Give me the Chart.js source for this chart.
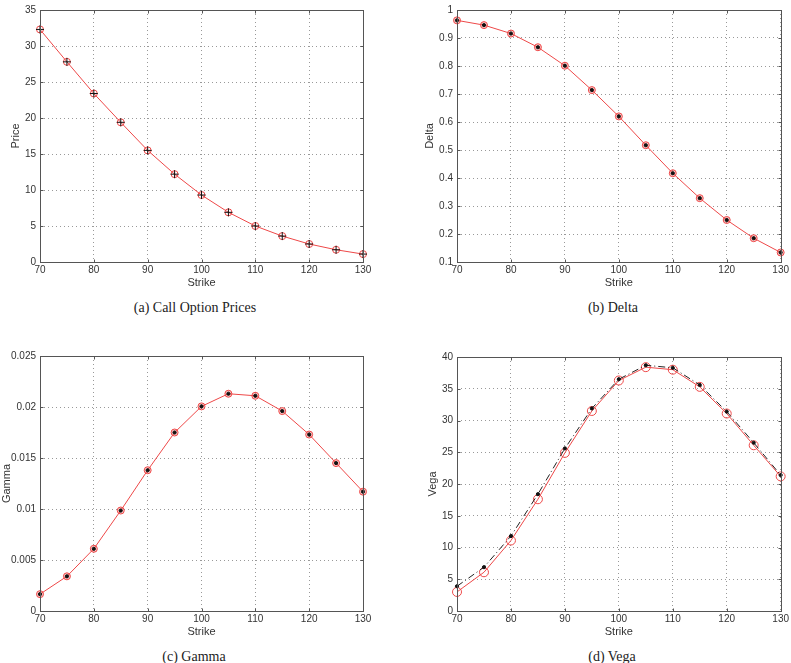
<!DOCTYPE html>
<html>
<head>
<meta charset="utf-8">
<script src="https://cdn.jsdelivr.net/npm/chart.js@4.4.1/dist/chart.umd.min.js"></script>
<style>
body{margin:0;background:#fff;width:791px;height:663px;position:relative;overflow:hidden}
canvas{position:absolute}
.cap{position:absolute;font-family:"Liberation Serif","DejaVu Serif",serif;font-size:14px;color:#222;transform:translateX(-50%);white-space:nowrap;line-height:16px}
</style>
</head>
<body>
<canvas id="chartA" width="395" height="292" style="left:0;top:0"></canvas>
<canvas id="chartB" width="396" height="292" style="left:395px;top:0"></canvas>
<canvas id="chartC" width="395" height="311" style="left:0;top:330px"></canvas>
<canvas id="chartD" width="396" height="311" style="left:395px;top:330px"></canvas>
<div class="cap" style="left:195px;top:300px">(a) Call Option Prices</div>
<div class="cap" style="left:613px;top:300px">(b) Delta</div>
<div class="cap" style="left:194px;top:649px">(c) Gamma</div>
<div class="cap" style="left:612px;top:649px">(d) Vega</div>
<script>
// strikes on the x axis
var strikes = [70, 75, 80, 85, 90, 95, 100, 105, 110, 115, 120, 125, 130];
var strikeTicks = [70, 80, 90, 100, 110, 120, 130];

// (a) call prices
var price = [32.3, 27.8, 23.4, 19.4, 15.5, 12.2, 9.3, 6.9, 5.0, 3.6, 2.5, 1.7, 1.1];
var priceTicks = [0, 5, 10, 15, 20, 25, 30, 35];

// (b) delta
var delta = [0.963, 0.946, 0.916, 0.867, 0.801, 0.714, 0.620, 0.517, 0.417, 0.328, 0.250, 0.185, 0.134];
var deltaTicks = [0.1, 0.2, 0.3, 0.4, 0.5, 0.6, 0.7, 0.8, 0.9, 1];

// (c) gamma
var gamma = [0.00165, 0.0034, 0.0061, 0.00985, 0.0138, 0.0175, 0.02006, 0.0213, 0.0211, 0.0196, 0.0173, 0.0145, 0.0117];
var gammaTicks = [0, 0.005, 0.01, 0.015, 0.02, 0.025];

// (d) vega, two estimates
var vegaRed = [3.0, 6.1, 11.1, 17.6, 24.9, 31.5, 36.3, 38.4, 38.0, 35.3, 31.1, 26.1, 21.2];
var vegaBlack = [3.9, 6.9, 11.8, 18.4, 25.6, 31.9, 36.5, 38.7, 38.3, 35.6, 31.4, 26.5, 21.4];
var vegaTicks = [0, 5, 10, 15, 20, 25, 30, 35, 40];

Chart.defaults.font.family = '"Liberation Sans", Arial, sans-serif';
Chart.defaults.font.size = 10;
Chart.defaults.color = '#333';

var red = '#ee4848';

function pts(vals) {
    return strikes.map(function(s, i) { return {x: s, y: vals[i]}; });
}

// matlab style box with small inward ticks on every side
var boxPlugin = {
    id: 'box',
    afterDraw: function(chart) {
        var a = chart.chartArea, ctx = chart.ctx;
        var L = Math.round(a.left) + 0.5, T = Math.round(a.top) + 0.5;
        var R = L + Math.round(a.right - a.left), B = T + Math.round(a.bottom - a.top);
        ctx.save();
        ctx.strokeStyle = '#555';
        ctx.lineWidth = 1;
        ctx.strokeRect(L, T, R - L, B - T);
        ctx.beginPath();
        chart.scales.x.ticks.forEach(function(t) {
            var px = Math.round(chart.scales.x.getPixelForValue(t.value)) + 0.5;
            ctx.moveTo(px, B); ctx.lineTo(px, B - 3);
            ctx.moveTo(px, T); ctx.lineTo(px, T + 3);
        });
        chart.scales.y.ticks.forEach(function(t) {
            var py = Math.round(chart.scales.y.getPixelForValue(t.value)) + 0.5;
            ctx.moveTo(L, py); ctx.lineTo(L + 3, py);
            ctx.moveTo(R, py); ctx.lineTo(R - 3, py);
        });
        ctx.stroke();
        ctx.restore();
    }
};

function makeChart(id, datasets, ticks, yTitle, yWidth, padTop, padRight, titlePad) {
    return new Chart(id, {
        type: 'line',
        data: {datasets: datasets},
        options: {
            responsive: false,
            animation: false,
            layout: {padding: {top: padTop, right: padRight, left: 0, bottom: 0}},
            plugins: {legend: {display: false}, tooltip: {enabled: false}},
            scales: {
                x: {
                    type: 'linear', min: 70, max: 130,
                    afterBuildTicks: function(s) { s.ticks = strikeTicks.map(function(v) { return {value: v}; }); },
                    afterFit: function(s) { s.height = 30; },
                    grid: {color: '#999', drawTicks: false},
                    border: {display: false, dash: [1, 3]},
                    ticks: {padding: 2, maxRotation: 0, callback: function(v) { return String(v); }},
                    title: {display: true, text: 'Strike', font: {size: 11}, padding: {top: 0, bottom: 2}}
                },
                y: {
                    type: 'linear', min: ticks[0], max: ticks[ticks.length - 1],
                    afterBuildTicks: function(s) { s.ticks = ticks.map(function(v) { return {value: v}; }); },
                    afterFit: function(s) { s.width = yWidth; },
                    grid: {color: '#999', drawTicks: false},
                    border: {display: false, dash: [1, 3]},
                    ticks: {padding: 4, callback: function(v) { return String(v); }},
                    title: {display: true, text: yTitle, font: {size: 11, lineHeight: 1.2}, padding: {top: titlePad, bottom: 0}}
                }
            }
        },
        plugins: [boxPlugin]
    });
}

function blackDots(vals, style, dash) {
    return {
        data: pts(vals),
        clip: false,
        borderColor: dash ? '#222' : 'rgba(0,0,0,0)',
        borderWidth: 1,
        borderDash: dash || [],
        pointStyle: style,
        pointRadius: style === 'cross' ? 4 : 1.6,
        pointBorderColor: '#111',
        pointBackgroundColor: '#111',
        pointBorderWidth: 1,
        tension: 0
    };
}

function redLine(vals, fill, r) {
    return {
        data: pts(vals),
        clip: false,
        borderColor: red,
        borderWidth: 1,
        pointStyle: 'circle',
        pointRadius: r,
        pointBorderColor: red,
        pointBackgroundColor: fill,
        pointBorderWidth: 1,
        tension: 0
    };
}

makeChart('chartA', [blackDots(price, 'cross'), redLine(price, 'rgba(255,255,255,0)', 3.5)],
    priceTicks, 'Price', 40, 10, 32, 9);
makeChart('chartB', [blackDots(delta, 'circle'), redLine(delta, 'rgba(238,72,72,0.3)', 3.5)],
    deltaTicks, 'Delta', 62, 6, 10, 28);
makeChart('chartC', [blackDots(gamma, 'circle'), redLine(gamma, 'rgba(238,72,72,0.3)', 3.5)],
    gammaTicks, 'Gamma', 40, 26, 32, 0);
makeChart('chartD', [blackDots(vegaBlack, 'circle', [7, 3, 1, 3]), redLine(vegaRed, 'rgba(255,255,255,0)', 4.5)],
    vegaTicks, 'Vega', 62, 27, 10, 31);
</script>
</body>
</html>
